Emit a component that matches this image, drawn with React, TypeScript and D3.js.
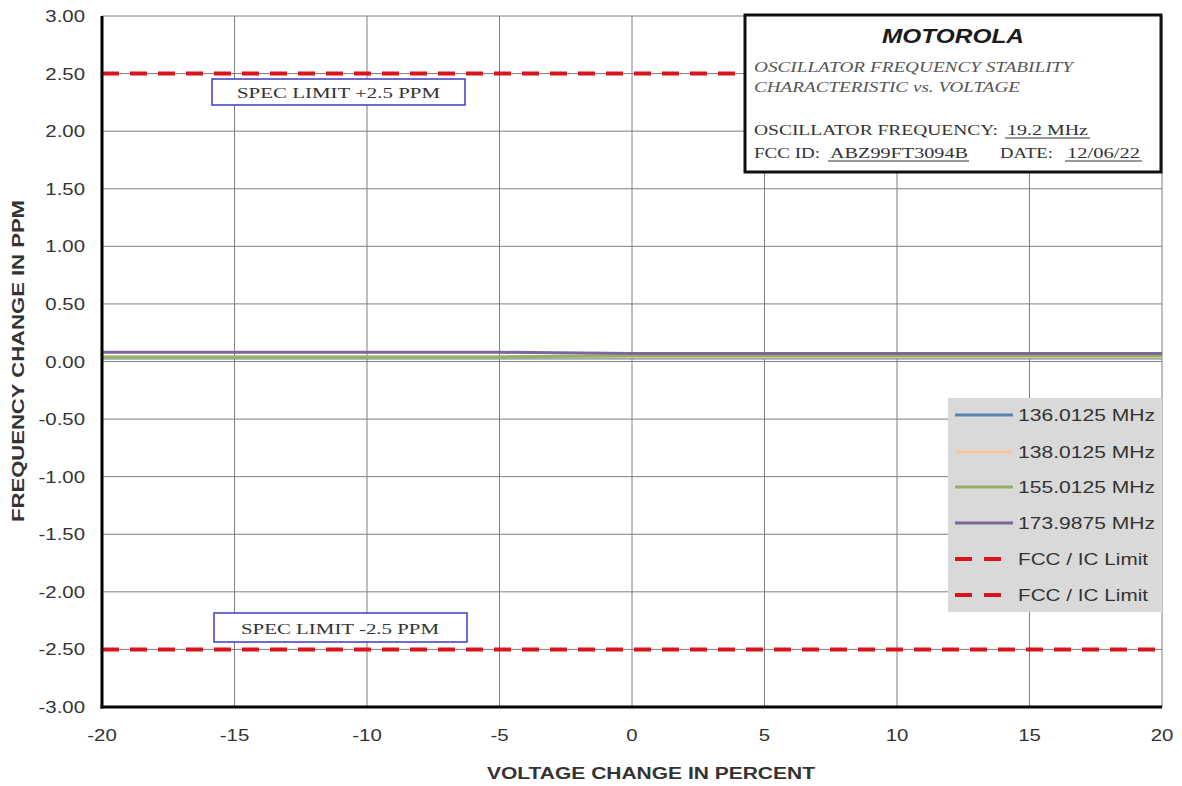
import React from "react";
import * as d3 from "d3";

const voltageChange = [-20, -15, -10, -5, 0, 5, 10, 15, 20];
const s136 = [0.03, 0.03, 0.03, 0.03, 0.03, 0.03, 0.03, 0.03, 0.03];
const s138 = [0.04, 0.04, 0.04, 0.04, 0.04, 0.04, 0.04, 0.04, 0.04];
const s155 = [0.04, 0.04, 0.04, 0.04, 0.05, 0.05, 0.05, 0.05, 0.05];
const s174 = [0.08, 0.08, 0.08, 0.08, 0.07, 0.07, 0.07, 0.07, 0.07];
const upperLimit = 2.5;
const lowerLimit = -2.5;
const xTicks = [-20, -15, -10, -5, 0, 5, 10, 15, 20];
const yTicks = [3, 2.5, 2, 1.5, 1, 0.5, 0, -0.5, -1, -1.5, -2, -2.5, -3];

const seriesNames = ["136.0125 MHz", "138.0125 MHz", "155.0125 MHz", "173.9875 MHz"];
const seriesColors = ["#5a82b4", "#f7c79b", "#93b25e", "#7d65a0"];
const seriesValues = [s136, s138, s155, s174];

const W = 1182;
const H = 786;
const L = 102, R = 1162, T = 16, B = 707;
const SANS = "'Liberation Sans', Arial, sans-serif";
const SERIF = "'Liberation Serif', 'Times New Roman', serif";
const TXT = "#333";
const RED = "#d8141c";

function fmt(v: number) {
  const s = Math.abs(v).toFixed(2);
  return v < 0 ? "-" + s : s;
}

function SText(props: { x: number; y: number; anchor?: string; size?: number; weight?: string; style?: string; fill?: string; sx?: number; children: any; family?: string }) {
  const { x, y, anchor = "start", size = 17, weight = "normal", style = "normal", fill = TXT, sx = 1.2, family = SANS } = props;
  return (
    <g transform={`translate(${x},${y}) scale(${sx},1)`}>
      <text x={0} y={0} textAnchor={anchor} fontSize={size} fontWeight={weight} fontStyle={style} fill={fill} fontFamily={family}>
        {props.children}
      </text>
    </g>
  );
}

export default function App() {
  const x = d3.scaleLinear().domain([-20, 20]).range([L, R]);
  const y = d3.scaleLinear().domain([-3, 3]).range([B, T]);
  const line = d3.line<number>().x((_, i) => x(voltageChange[i])).y((d) => y(d));

  const legendRows = [415, 452, 487, 523, 559, 595];

  return (
    <svg width={W} height={H} style={{ position: "absolute", left: 0, top: 0, background: "#fff" }}>
      <rect x={0} y={0} width={W} height={H} fill="#fff" />
      {/* grid */}
      {xTicks.map((t) => (
        <line key={"gx" + t} x1={x(t)} x2={x(t)} y1={T} y2={B} stroke="#7f7f7f" strokeWidth={1} />
      ))}
      {yTicks.map((t) => (
        <line key={"gy" + t} x1={L} x2={R} y1={y(t)} y2={y(t)} stroke="#7f7f7f" strokeWidth={1} />
      ))}
      {/* y tick labels */}
      {yTicks.map((t) => (
        <SText key={"yl" + t} x={85} y={y(t) + 6} anchor="end">{fmt(t)}</SText>
      ))}
      {xTicks.map((t) => (
        <SText key={"xl" + t} x={x(t)} y={741} anchor="middle">{t < 0 ? "-" + Math.abs(t) : String(t)}</SText>
      ))}
      {/* limits */}
      {[upperLimit, lowerLimit].map((v, i) => (
        <line key={"lim" + i} x1={L} x2={R} y1={y(v)} y2={y(v)} stroke={RED} strokeWidth={4} strokeDasharray="17 11" />
      ))}
      {/* series */}
      {seriesValues.map((vals, i) => (
        <path key={"s" + i} d={line(vals) || ""} fill="none" stroke={seriesColors[i]} strokeWidth={3} />
      ))}
      {/* axes */}
      <line x1={L} x2={L} y1={T} y2={B + 1.5} stroke="#000" strokeWidth={3} />
      <line x1={L - 1.5} x2={R} y1={B} y2={B} stroke="#000" strokeWidth={3} />

      {/* spec boxes */}
      <rect x={212} y={79} width={253} height={26} fill="#fff" stroke="#3b3bc4" strokeWidth={1.5} />
      <text x={338.5} y={98} textAnchor="middle" fontSize={15} fontFamily={SERIF} fill={TXT} textLength={203} lengthAdjust="spacingAndGlyphs">SPEC LIMIT +2.5 PPM</text>
      <rect x={214} y={613} width={253} height={29} fill="#fff" stroke="#3b3bc4" strokeWidth={1.5} />
      <text x={340} y={634} textAnchor="middle" fontSize={15} fontFamily={SERIF} fill={TXT} textLength={198} lengthAdjust="spacingAndGlyphs">SPEC LIMIT -2.5 PPM</text>

      {/* title box */}
      <rect x={745} y={15} width={416} height={157} fill="#fff" stroke="#111" strokeWidth={3} />
      <text x={953} y={43} textAnchor="middle" fontSize={21} fontWeight="bold" fontStyle="italic" fontFamily={SANS} fill="#1a1a1a" textLength={142} lengthAdjust="spacingAndGlyphs">MOTOROLA</text>
      <text x={754} y={72} fontSize={15} fontStyle="italic" fontFamily={SERIF} fill="#555" textLength={319} lengthAdjust="spacingAndGlyphs">OSCILLATOR FREQUENCY STABILITY</text>
      <text x={754} y={92} fontSize={15} fontStyle="italic" fontFamily={SERIF} fill="#555" textLength={266} lengthAdjust="spacingAndGlyphs">CHARACTERISTIC vs. VOLTAGE</text>
      <text x={754} y={135} fontSize={14} fontFamily={SERIF} fill={TXT} textLength={244} lengthAdjust="spacingAndGlyphs">OSCILLATOR FREQUENCY:</text>
      <text x={1007} y={135} fontSize={14} fontFamily={SERIF} fill={TXT} textLength={81} lengthAdjust="spacingAndGlyphs">19.2 MHz</text>
      <line x1={1005} x2={1090} y1={138} y2={138} stroke={TXT} strokeWidth={1} />
      <text x={754} y={158} fontSize={14} fontFamily={SERIF} fill={TXT} textLength={66} lengthAdjust="spacingAndGlyphs">FCC ID:</text>
      <text x={830} y={158} fontSize={14} fontFamily={SERIF} fill={TXT} textLength={138} lengthAdjust="spacingAndGlyphs">ABZ99FT3094B</text>
      <line x1={828} x2={969} y1={161} y2={161} stroke={TXT} strokeWidth={1} />
      <text x={1000} y={158} fontSize={14} fontFamily={SERIF} fill={TXT} textLength={53} lengthAdjust="spacingAndGlyphs">DATE:</text>
      <text x={1067} y={158} fontSize={14} fontFamily={SERIF} fill={TXT} textLength={73} lengthAdjust="spacingAndGlyphs">12/06/22</text>
      <line x1={1065} x2={1142} y1={161} y2={161} stroke={TXT} strokeWidth={1} />

      {/* legend */}
      <rect x={948} y={398} width={214} height={214} fill="#d9d9d9" />
      {seriesNames.map((n, i) => (
        <g key={"lg" + i}>
          <line x1={955} x2={1013} y1={legendRows[i]} y2={legendRows[i]} stroke={seriesColors[i]} strokeWidth={3} />
          <text x={1018} y={legendRows[i] + 6} fontSize={17} fontFamily={SANS} fill={TXT} textLength={137} lengthAdjust="spacingAndGlyphs">{n}</text>
        </g>
      ))}
      {[4, 5].map((r) => (
        <g key={"lgl" + r}>
          <line x1={955} x2={1013} y1={legendRows[r]} y2={legendRows[r]} stroke={RED} strokeWidth={4} strokeDasharray="17 12" />
          <text x={1018} y={legendRows[r] + 6} fontSize={17} fontFamily={SANS} fill={TXT} textLength={130} lengthAdjust="spacingAndGlyphs">FCC / IC Limit</text>
        </g>
      ))}

      {/* axis titles */}
      <text x={651} y={779} textAnchor="middle" fontSize={16} fontWeight="bold" fontFamily={SANS} fill={TXT} textLength={328} lengthAdjust="spacingAndGlyphs">VOLTAGE CHANGE IN PERCENT</text>
      <text transform="translate(24,361) rotate(-90)" x={0} y={0} textAnchor="middle" fontSize={16} fontWeight="bold" fontFamily={SANS} fill={TXT} textLength={322} lengthAdjust="spacingAndGlyphs">FREQUENCY CHANGE IN PPM</text>
    </svg>
  );
}
